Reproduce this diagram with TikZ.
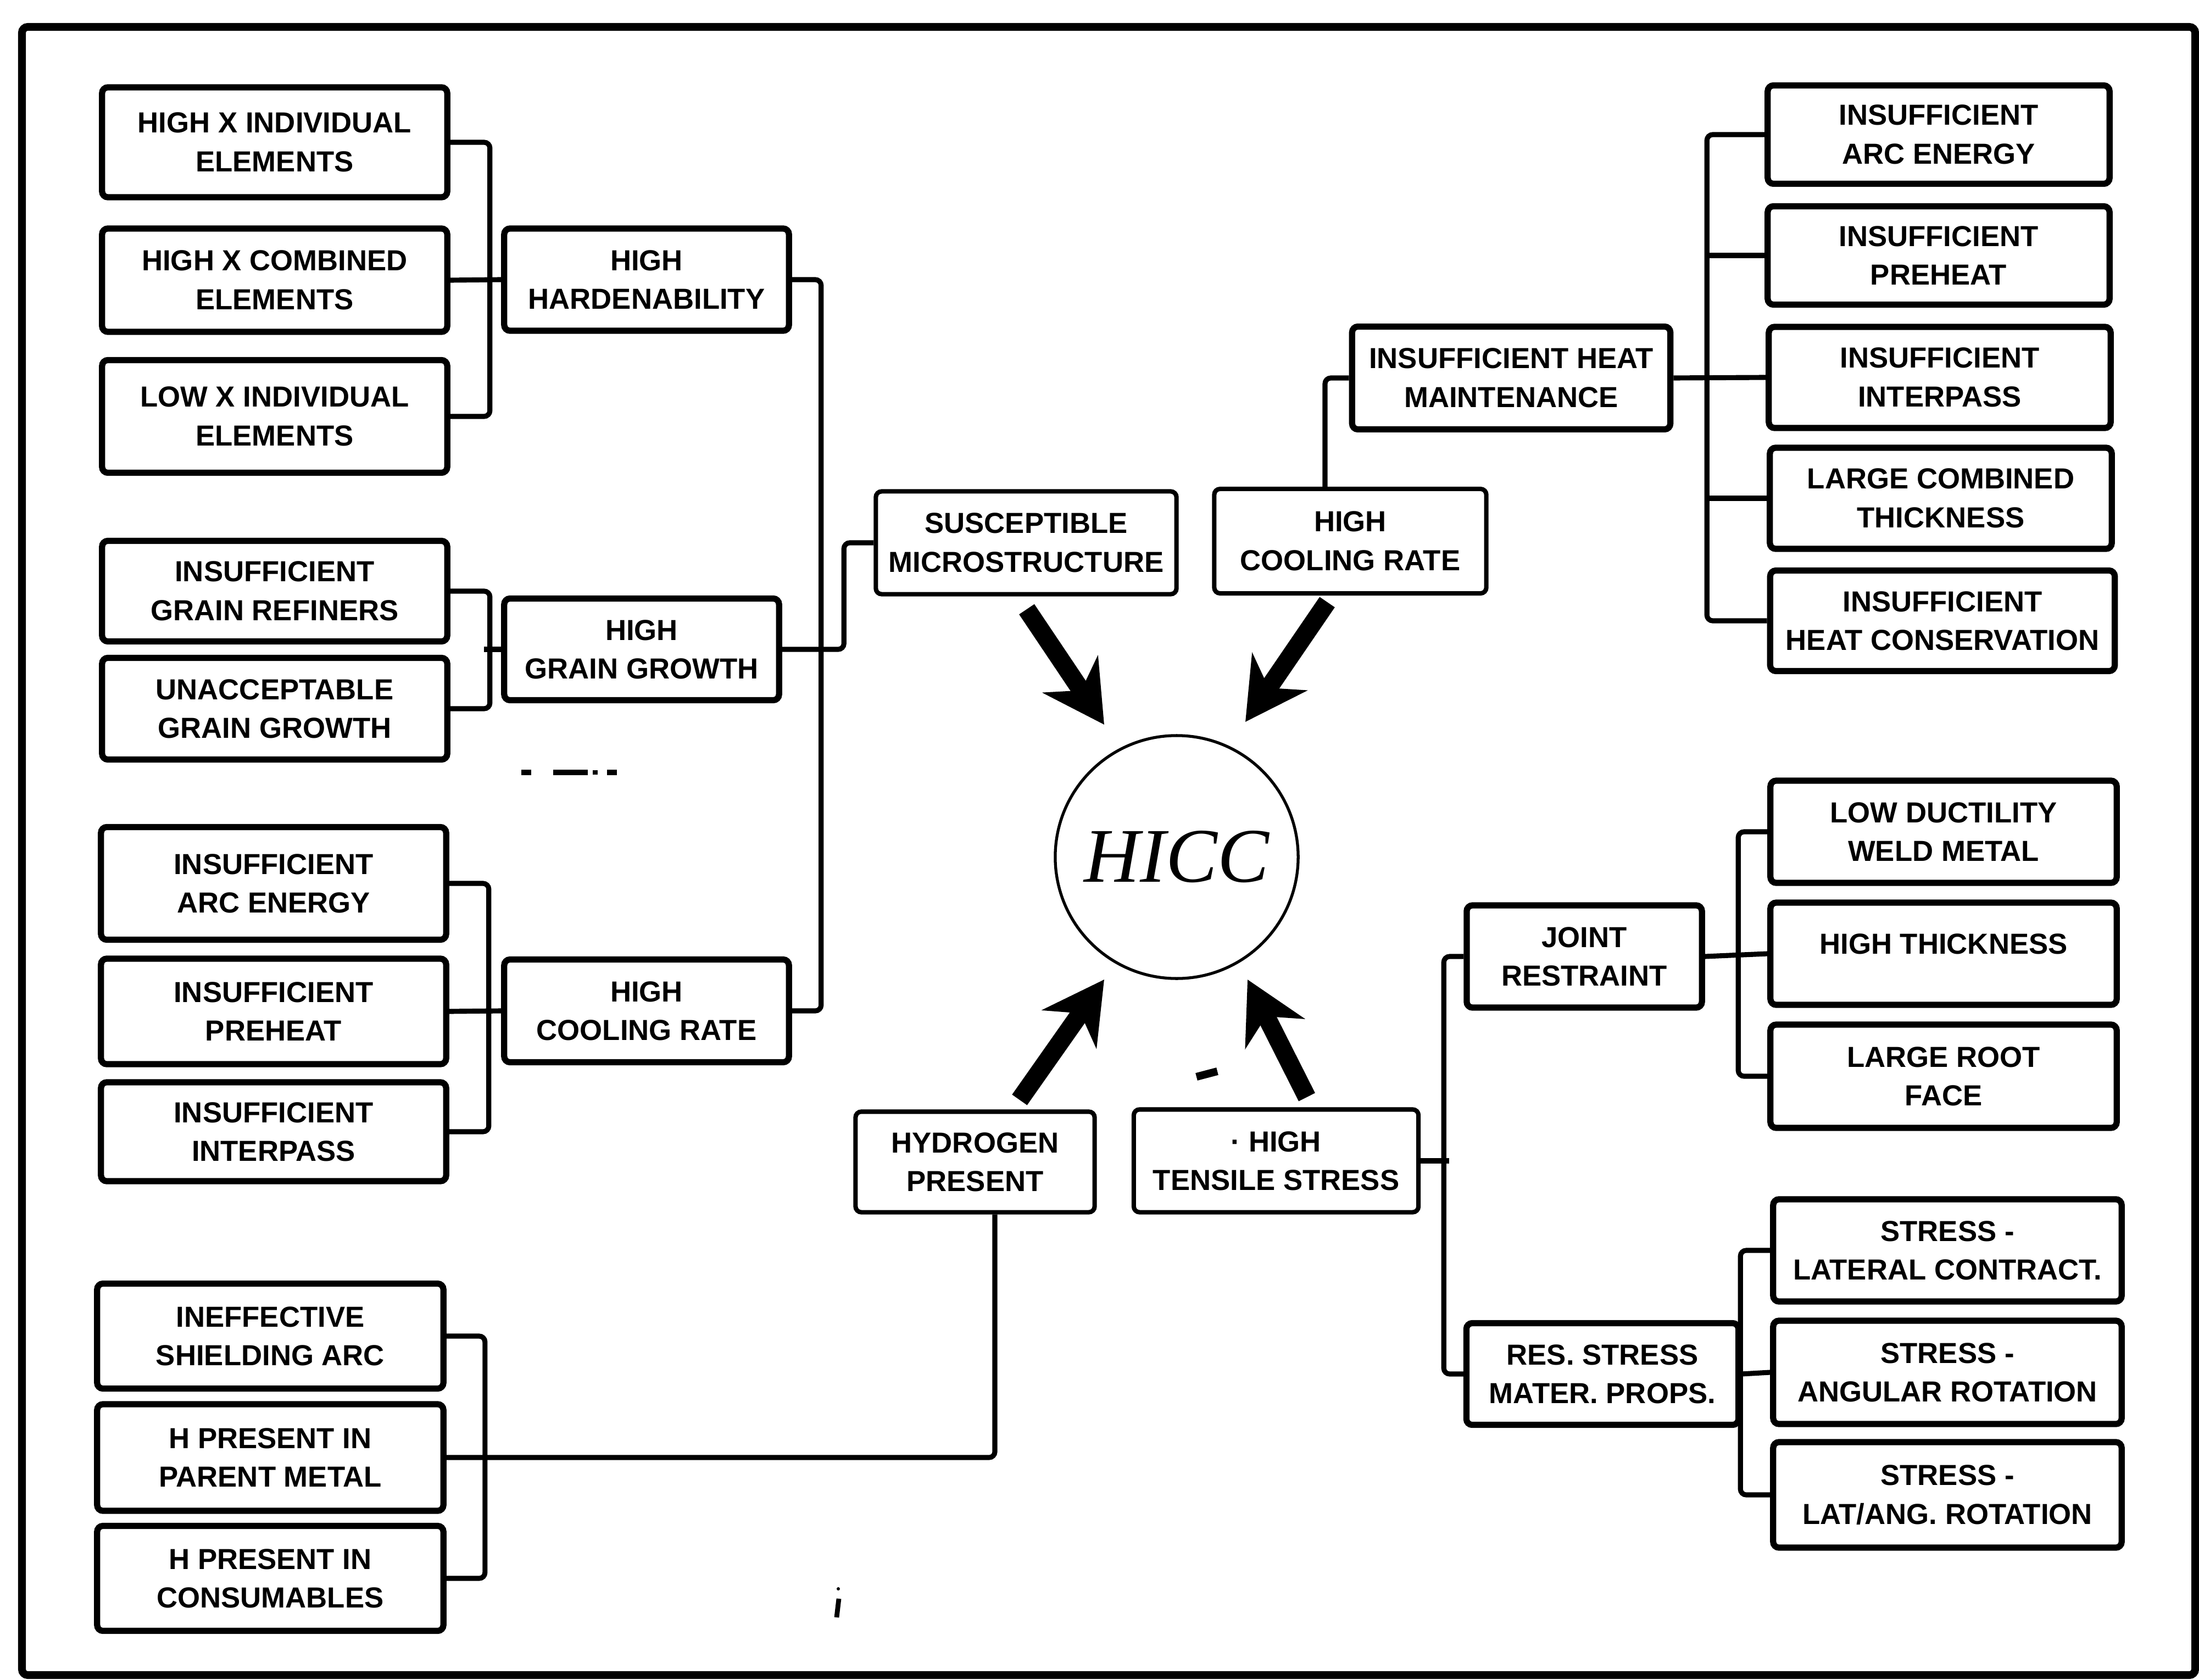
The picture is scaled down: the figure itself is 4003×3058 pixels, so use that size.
\documentclass[tikz,border=0pt]{standalone}
\usepackage{fontspec}
\setmainfont{Liberation Sans}
\newfontfamily\hiccfont{Liberation Serif}
\usetikzlibrary{arrows.meta}
\begin{document}
\begin{tikzpicture}[x=0.01cm,y=-0.01cm,
  cause/.style={draw, line width=3.2pt, rounded corners=3pt, align=center,
    inner sep=0pt, font=\bfseries\fontsize{15}{20}\selectfont},
  maincause/.style={cause, line width=2.3pt},
  conn/.style={line width=2.6pt, rounded corners=3pt},
  bigarrow/.style={line width=9.5pt, -{Stealth[length=11mm,width=12mm,inset=3.5mm]}},
  speck/.style={fill=black, draw=none}
]
\useasboundingbox (0,0) rectangle (4003,3058);
\draw[line width=4pt, rounded corners=3pt] (40,49) rectangle (3996,3049);

% --- hardenability branch
\node[cause, minimum width=6.28cm, minimum height=2.00cm] (L1) at (500,259) {HIGH X INDIVIDUAL\\ELEMENTS};
\node[cause, minimum width=6.28cm, minimum height=1.88cm] (L2) at (500,510) {HIGH X COMBINED\\ELEMENTS};
\node[cause, minimum width=6.28cm, minimum height=2.05cm] (L3) at (500,758) {LOW X INDIVIDUAL\\ELEMENTS};
\node[cause, minimum width=5.18cm, minimum height=1.86cm] (H1) at (1177,509) {HIGH\\HARDENABILITY};

% --- grain growth branch
\node[cause, minimum width=6.28cm, minimum height=1.83cm] (L4) at (500,1076) {INSUFFICIENT\\GRAIN REFINERS};
\node[cause, minimum width=6.28cm, minimum height=1.85cm] (L5) at (500,1290) {UNACCEPTABLE\\GRAIN GROWTH};
\node[cause, minimum width=5.00cm, minimum height=1.85cm] (H2) at (1168,1182) {HIGH\\GRAIN GROWTH};

% --- cooling rate branch (left)
\node[cause, minimum width=6.28cm, minimum height=2.05cm] (L6) at (498,1608) {INSUFFICIENT\\ARC ENERGY};
\node[cause, minimum width=6.28cm, minimum height=1.92cm] (L7) at (498,1841) {INSUFFICIENT\\PREHEAT};
\node[cause, minimum width=6.28cm, minimum height=1.80cm] (L8) at (498,2060) {INSUFFICIENT\\INTERPASS};
\node[cause, minimum width=5.18cm, minimum height=1.87cm] (H3) at (1177,1840) {HIGH\\COOLING RATE};

% --- hydrogen sources
\node[cause, minimum width=6.30cm, minimum height=1.91cm] (B1) at (492,2432) {INEFFECTIVE\\SHIELDING ARC};
\node[cause, minimum width=6.30cm, minimum height=1.94cm] (B2) at (492,2653) {H PRESENT IN\\PARENT METAL};
\node[cause, minimum width=6.30cm, minimum height=1.91cm] (B3) at (492,2873) {H PRESENT IN\\CONSUMABLES};

% --- the four main causes and the crack
\node[maincause, minimum width=5.47cm, minimum height=1.87cm] (S) at (1868,988) {SUSCEPTIBLE\\MICROSTRUCTURE};
\node[maincause, minimum width=4.95cm, minimum height=1.90cm] (HC) at (2458,985) {HIGH\\COOLING RATE};
\node[maincause, minimum width=4.35cm, minimum height=1.83cm] (Hyd) at (1775,2115) {HYDROGEN\\PRESENT};
\node[maincause, minimum width=5.18cm, minimum height=1.87cm] (Ten) at (2323,2113) {· HIGH\\TENSILE STRESS};
\node[draw, circle, line width=1.5pt, minimum size=4.42cm, inner sep=0pt,
      font=\hiccfont\itshape\fontsize{40}{40}\selectfont] (hicc) at (2142,1560) {HICC};

% --- heat maintenance branch
\node[cause, minimum width=5.79cm, minimum height=1.87cm] (IHM) at (2751,688) {INSUFFICIENT HEAT\\MAINTENANCE};
\node[cause, minimum width=6.22cm, minimum height=1.79cm] (R1) at (3529,245) {INSUFFICIENT\\ARC ENERGY};
\node[cause, minimum width=6.22cm, minimum height=1.79cm] (R2) at (3529,465) {INSUFFICIENT\\PREHEAT};
\node[cause, minimum width=6.22cm, minimum height=1.84cm] (R3) at (3531,687) {INSUFFICIENT\\INTERPASS};
\node[cause, minimum width=6.22cm, minimum height=1.84cm] (R4) at (3533,907) {LARGE COMBINED\\THICKNESS};
\node[cause, minimum width=6.27cm, minimum height=1.83cm] (R5) at (3536,1130) {INSUFFICIENT\\HEAT CONSERVATION};

% --- restraint branch
\node[cause, minimum width=4.28cm, minimum height=1.86cm] (JR) at (2884,1741) {JOINT\\RESTRAINT};
\node[cause, minimum width=6.30cm, minimum height=1.86cm] (J1) at (3538,1514) {LOW DUCTILITY\\WELD METAL};
\node[cause, minimum width=6.30cm, minimum height=1.86cm] (J2) at (3538,1736) {};
\node[font=\bfseries\fontsize{15}{20}\selectfont] (J2t) at ([yshift=0.18cm]J2.center) {HIGH THICKNESS};
\node[cause, minimum width=6.30cm, minimum height=1.88cm] (J3) at (3538,1959) {LARGE ROOT\\FACE};

% --- residual stress branch
\node[cause, minimum width=4.95cm, minimum height=1.85cm] (RS) at (2917,2501) {RES. STRESS\\MATER. PROPS.};
\node[cause, minimum width=6.34cm, minimum height=1.86cm] (K1) at (3545,2276) {STRESS -\\LATERAL CONTRACT.};
\node[cause, minimum width=6.34cm, minimum height=1.88cm] (K2) at (3545,2498) {STRESS -\\ANGULAR ROTATION};
\node[cause, minimum width=6.34cm, minimum height=1.92cm] (K3) at (3545,2721) {STRESS -\\LAT/ANG. ROTATION};

% --- tree connectors, left side
\draw[conn] (L1.east) -- ++(72,0) |- (L3.east);
\draw[conn] (L2.east) -- (H1.west);
\draw[conn] (L4.east) -- ++(72,0) |- (L5.east);
\draw[conn] (H2.west) -- ++(-31,0);
\draw[conn] (L6.east) -- ++(72,0) |- (L8.east);
\draw[conn] (L7.east) -- (H3.west);
\draw[conn] (H1.east) -- ++(53,0) |- (H3.east);
\draw[conn] (H2.east) -| ([xshift=-0.54cm]S.west) -- (S.west);
\draw[conn] (B1.east) -- ++(70,0) |- (B3.east);
\draw[conn] ([xshift=0.36cm]Hyd.south) |- (B2.east);

% --- tree connectors, right side
\draw[conn] ([xshift=-0.46cm]HC.north) |- (IHM.west);
\draw[conn] (IHM.east) -- (R3.west);
\draw[conn] (R1.west) -- ++(-105,0) |- (R5.west);
\draw[conn] (R2.west) -- ++(-105,0);
\draw[conn] (R4.west) -- ++(-108,0);
\draw[conn] (Ten.east) -- ++(52,0);
\draw[conn] (JR.west) -- ++(-36,0) |- (RS.west);
\draw[conn] (JR.east) -- (J2.west);
\draw[conn] (J1.west) -- ++(-53,0) |- (J3.west);
\draw[conn] (RS.east) -- (K2.west);
\draw[conn] (K1.west) -- ++(-54,0) |- (K3.west);

% --- heavy arrows into the crack
\coordinate (a1s) at (1869,1109); \coordinate (a1e) at (2010,1319);
\coordinate (a2s) at (2416,1096); \coordinate (a2e) at (2267,1314);
\coordinate (a3s) at (1856,2002); \coordinate (a3e) at (2010,1783);
\coordinate (a4s) at (2379,1997); \coordinate (a4e) at (2271,1783);
\draw[bigarrow] (a1s) -- (a1e);
\draw[bigarrow] (a2s) -- (a2e);
\draw[bigarrow] (a3s) -- (a3e);
\draw[bigarrow] (a4s) -- (a4e);

% --- stray print marks
\fill[speck] (949,1401) rectangle (967,1411);
\fill[speck] (1007,1401) rectangle (1070,1411);
\fill[speck] (1079,1402) rectangle (1088,1410);
\fill[speck] (1105,1401) rectangle (1123,1411);
\draw[line width=4pt] (2178,1960) -- (2216,1950);
\fill[speck] (1526,2892) circle (3);
\draw[line width=2.5pt] (1527,2910) -- (1523,2944);
\end{tikzpicture}
\end{document}
